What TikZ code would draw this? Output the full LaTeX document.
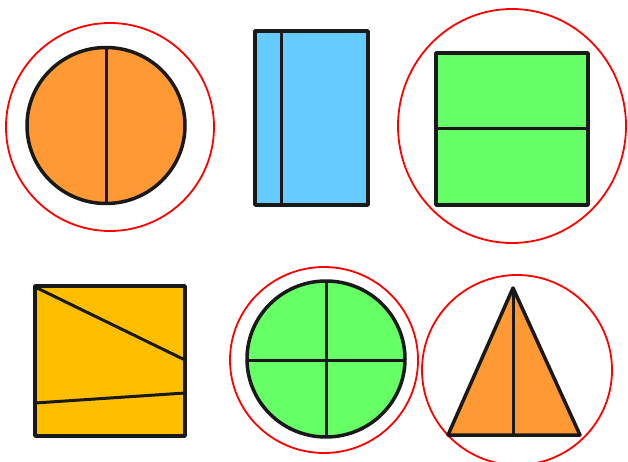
\documentclass[tikz,border=0pt]{standalone}
\definecolor{orng}{RGB}{255,153,51}
\definecolor{sky}{RGB}{102,204,255}
\definecolor{lgreen}{RGB}{102,255,102}
\definecolor{gold}{RGB}{255,191,0}
\begin{document}
\begin{tikzpicture}[x=1pt,y=-1pt,
  ring/.style={draw=red,line width=1.8pt},
  shp/.style={draw=black!90,line width=3.5pt,line join=round},
  sep/.style={draw=black!90,line width=3pt}]
\useasboundingbox (0,0) rectangle (628,462);
% 1: orange circle in red ring
\draw[ring] (110,127) circle[radius=104];
\draw[shp,fill=orng] (106,125.5) ellipse[x radius=79,y radius=78];
\draw[sep] (106,47.5) -- (106,203.5);
% 2: blue rectangle
\draw[shp,fill=sky] (255,31) rectangle (368,205);
\draw[sep] (281,31) -- (281,205);
% 3: green rectangle in red ring
\draw[ring] (512,126) ellipse[x radius=114,y radius=117];
\draw[shp,fill=lgreen] (436,53) rectangle (588,205);
\draw[sep] (436,128.5) -- (588,128.5);
% 4: yellow square
\draw[shp,fill=gold] (35,286) rectangle (185,436);
\draw[sep] (35,287) -- (185,360);
\draw[sep] (35,403) -- (185,393);
% 5: green circle in red ring
\draw[ring] (324,360) ellipse[x radius=94,y radius=93];
\draw[shp,fill=lgreen] (326,359) ellipse[x radius=79,y radius=78];
\draw[sep] (326,281) -- (326,437);
\draw[sep] (247,360) -- (405,360);
% 6: orange triangle in red ring
\draw[ring] (517,370) circle[radius=95];
\draw[shp,fill=orng] (513,288) -- (580,435) -- (448,435) -- cycle;
\draw[sep] (513,288) -- (513,435);
\end{tikzpicture}
\end{document}
